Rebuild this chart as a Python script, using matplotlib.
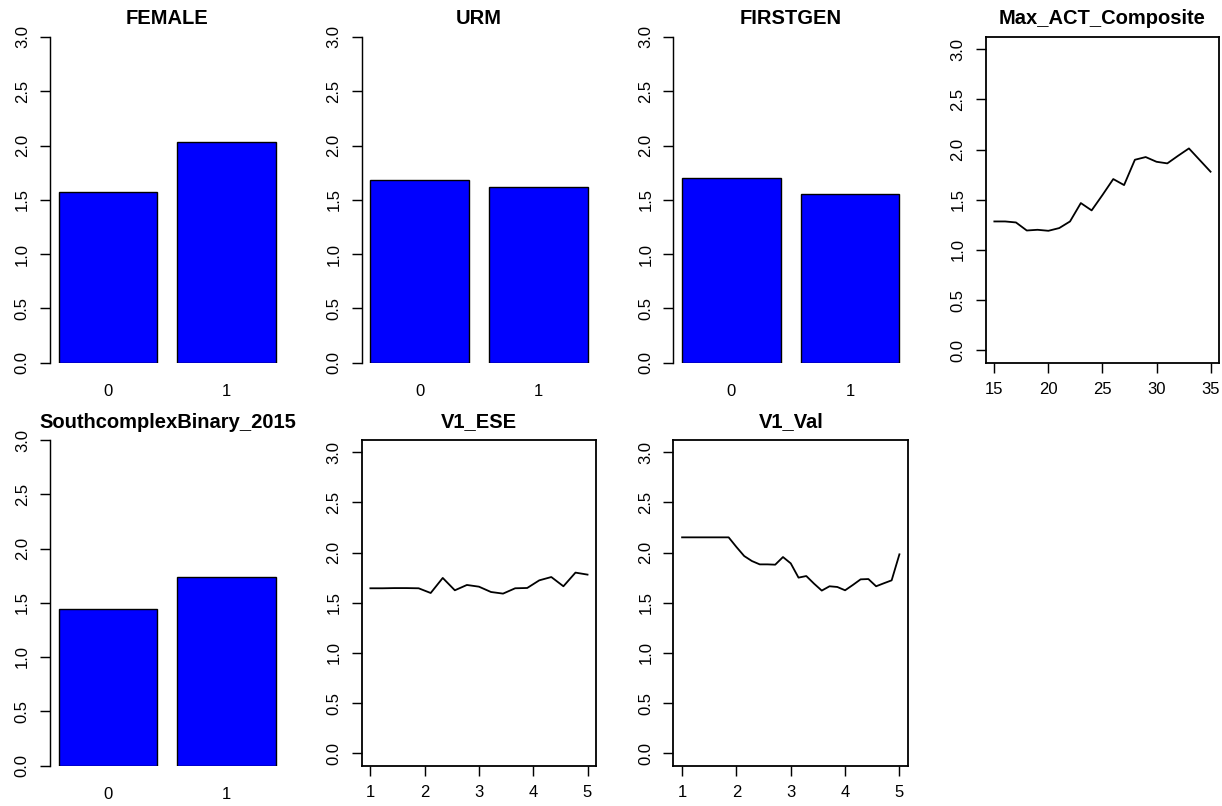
import numpy as np
import matplotlib
matplotlib.use("Agg")
import matplotlib.pyplot as plt

plt.rcParams['font.family'] = ['Liberation Sans', 'DejaVu Sans']

# Mean outcome by level for the binary predictors
bar_levels = ["0", "1"]
female_vals = [1.567, 2.03]
urm_vals = [1.684, 1.62]
firstgen_vals = [1.70, 1.55]
southcomplex_vals = [1.442, 1.74]

# Mean outcome along the continuous predictors
act_x = [15, 16, 17, 18, 19, 20, 21, 22, 23, 24, 25,
         26, 27, 28, 29, 30, 31, 32, 33, 34, 35]
act_y = [1.284, 1.284, 1.274, 1.194, 1.201, 1.191, 1.218, 1.284, 1.467, 1.394, 1.547,
         1.706, 1.646, 1.898, 1.925, 1.878, 1.862, 1.938, 2.011, 1.895, 1.779]

ese_x = [1.0, 1.222, 1.444, 1.667, 1.889, 2.111, 2.333, 2.556, 2.778, 3.0,
         3.222, 3.444, 3.667, 3.889, 4.111, 4.333, 4.556, 4.778, 5.0]
ese_y = [1.644, 1.644, 1.646, 1.646, 1.644, 1.597, 1.747, 1.624, 1.677, 1.660,
         1.607, 1.591, 1.644, 1.647, 1.723, 1.756, 1.664, 1.800, 1.780]

val_x = [1.0, 1.143, 1.286, 1.429, 1.571, 1.714, 1.857, 2.0, 2.143, 2.286,
         2.429, 2.571, 2.714, 2.857, 3.0, 3.143, 3.286, 3.429, 3.571, 3.714,
         3.857, 4.0, 4.143, 4.286, 4.429, 4.571, 4.714, 4.857, 5.0]
val_y = [2.151, 2.151, 2.151, 2.151, 2.151, 2.151, 2.151, 2.055, 1.965, 1.915,
         1.882, 1.882, 1.879, 1.955, 1.892, 1.750, 1.766, 1.690, 1.621, 1.664,
         1.657, 1.624, 1.677, 1.733, 1.736, 1.664, 1.694, 1.723, 1.982]

W, H = 1222, 806
fig = plt.figure(figsize=(W / 100, H / 100), dpi=100)

col_left = [50, 361.7, 673.4, 985.7]
col_width = [234.7, 234.5, 234.7, 233.5]
row_top = [37, 440]
row_height = 325.5

TICK_FS = 12
TITLE_FS = 14.5
LW = 1.3
TICK_LEN = 7


def make_axes(row, col):
    left = col_left[col] / W
    bottom = (H - row_top[row] - row_height) / H
    return fig.add_axes([left, bottom, col_width[col] / W, row_height / H])


def style_y(ax):
    ax.set_yticks(np.arange(0, 3.01, 0.5))
    ax.set_yticklabels([f"{v:.1f}" for v in np.arange(0, 3.01, 0.5)],
                       rotation=90, va='center', fontsize=TICK_FS)
    ax.tick_params(axis='y', length=TICK_LEN, width=LW * 0.8, pad=7.5, direction='out')


def bar_panel(row, col, title, vals):
    ax = make_axes(row, col)
    pos = [0.7, 1.9]
    ax.bar(pos, vals, width=1.0, color='#0000FF', edgecolor='black', linewidth=1.0)
    ax.set_xlim(0.112, 2.488)
    ax.set_ylim(0, 3)
    for s in ['top', 'right', 'bottom']:
        ax.spines[s].set_visible(False)
    ax.spines['left'].set_linewidth(LW * 0.8)
    ax.spines['left'].set_bounds(0, 3)
    style_y(ax)
    ax.set_xticks(pos)
    ax.set_xticklabels(bar_levels, fontsize=TICK_FS)
    ax.tick_params(axis='x', length=0, pad=15.5)
    ax.set_title(title, fontsize=TITLE_FS, fontweight='bold', pad=9)
    return ax


def line_panel(row, col, title, x, y, xticks):
    ax = make_axes(row, col)
    ax.plot(x, y, color='black', linewidth=LW)
    lo, hi = min(x), max(x)
    ext = (hi - lo) * 0.04
    ax.set_xlim(lo - ext, hi + ext)
    ax.set_ylim(-0.12, 3.12)
    for s in ax.spines.values():
        s.set_linewidth(LW)
    style_y(ax)
    ax.set_xticks(xticks)
    ax.set_xticklabels([str(t) for t in xticks], fontsize=TICK_FS)
    ax.tick_params(axis='x', length=TICK_LEN, width=LW * 0.8, pad=7, direction='out')
    ax.set_title(title, fontsize=TITLE_FS, fontweight='bold', pad=9)
    return ax


bar_panel(0, 0, "FEMALE", female_vals)
bar_panel(0, 1, "URM", urm_vals)
bar_panel(0, 2, "FIRSTGEN", firstgen_vals)
line_panel(0, 3, "Max_ACT_Composite", act_x, act_y, [15, 20, 25, 30, 35])
bar_panel(1, 0, "SouthcomplexBinary_2015", southcomplex_vals)
line_panel(1, 1, "V1_ESE", ese_x, ese_y, [1, 2, 3, 4, 5])
line_panel(1, 2, "V1_Val", val_x, val_y, [1, 2, 3, 4, 5])

fig.savefig("out.png", dpi=100, facecolor='white')
